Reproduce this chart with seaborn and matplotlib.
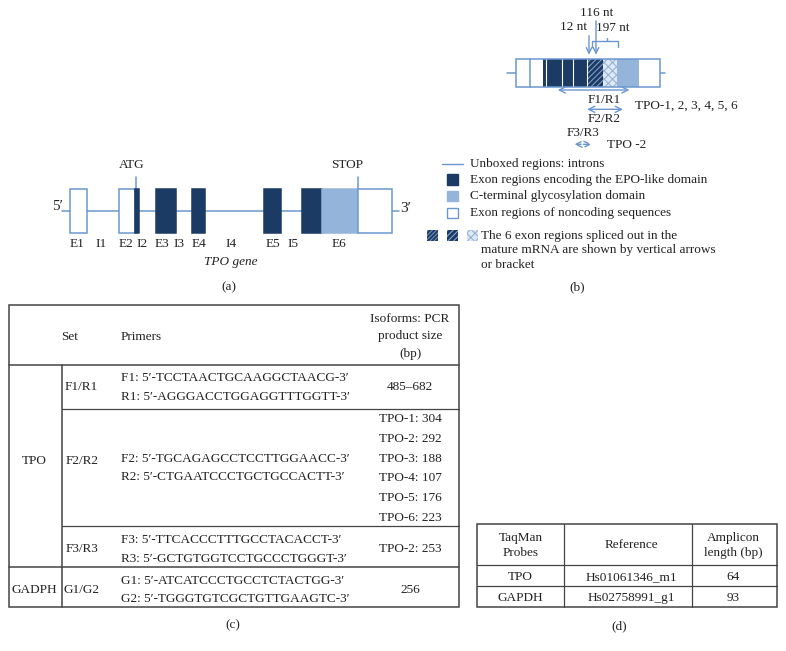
import matplotlib
matplotlib.use("Agg")
import matplotlib.pyplot as plt
from matplotlib.patches import Rectangle, FancyArrowPatch
import seaborn as sns

# colours
DARK = "#1b3a64"
LIGHT = "#95b4d9"
LINE = "#6b97cf"

# (a) TPO gene: exon segments (start, end, kind), x in figure pixels
gene_start, gene_end, gene_y = 62, 399, 211
gene_segments = [
    (70, 86.7, "white"),      # E1
    (119, 134.7, "white"),    # E2 5'UTR
    (134.7, 139.3, "dark"),   # E2 coding
    (155.7, 176, "dark"),     # E3
    (192, 204.7, "dark"),     # E4
    (264.3, 281, "dark"),     # E5
    (301.7, 322.3, "dark"),   # E6 EPO-like
    (322.3, 357.7, "light"),  # E6 C-terminal
    (357.7, 391.7, "white"),  # E6 3'UTR
]
gene_labels = ["E1", "I1", "E2", "I2", "E3", "I3", "E4", "I4", "E5", "I5", "E6"]
gene_label_x = [77, 101, 126, 142, 162, 179, 199, 231, 273, 293, 339]
codon_marks = ["ATG", "STOP"]
codon_x = [136, 357.7]

# (b) mature mRNA segments
mrna_edges = [516, 530, 542.7, 546, 561.7, 572.7, 586.7, 603.3, 617.3, 638.7, 660]
mrna_kinds = ["white", "white", "dark", "dark", "dark", "dark", "hatch", "dots", "light", "white"]
splice_labels = ["12 nt", "116 nt", "197 nt"]

primer_sets = ["F1/R1", "F2/R2", "F3/R3"]
primer_arrows = [(555, 632.3, 90), (584.3, 625.7, 109.3), (571.7, 594.3, 144.3)]

legend_texts = [
    "Unboxed regions: introns",
    "Exon regions encoding the EPO-like domain",
    "C-terminal glycosylation domain",
    "Exon regions of noncoding sequences",
]

# (c) primer table
set_names = ["F1/R1", "F2/R2", "F3/R3", "G1/G2"]
primers = [
    ["F1: 5\u2032-TCCTAACTGCAAGGCTAACG-3\u2032", "R1: 5\u2032-AGGGACCTGGAGGTTTGGTT-3\u2032"],
    ["F2: 5\u2032-TGCAGAGCCTCCTTGGAACC-3\u2032", "R2: 5\u2032-CTGAATCCCTGCTGCCACTT-3\u2032"],
    ["F3: 5\u2032-TTCACCCTTTGCCTACACCT-3\u2032", "R3: 5\u2032-GCTGTGGTCCTGCCCTGGGT-3\u2032"],
    ["G1: 5\u2032-ATCATCCCTGCCTCTACTGG-3\u2032", "G2: 5\u2032-TGGGTGTCGCTGTTGAAGTC-3\u2032"],
]
product_sizes = [
    ["485\u2013682"],
    ["TPO-1: 304", "TPO-2: 292", "TPO-3: 188", "TPO-4: 107", "TPO-5: 176", "TPO-6: 223"],
    ["TPO-2: 253"],
    ["256"],
]

# (d) TaqMan table
taqman_header = ["TaqMan\nProbes", "Reference", "Amplicon\nlength (bp)"]
taqman_genes = ["TPO", "GAPDH"]
taqman_refs = ["Hs01061346_m1", "Hs02758991_g1"]
taqman_lengths = [64, 93]

sns.set_theme(style="white")
plt.rcParams["font.family"] = ["Liberation Serif", "DejaVu Serif"]
plt.rcParams["hatch.linewidth"] = 0.8

fig = plt.figure(figsize=(7.86, 6.51), dpi=100)
ax = fig.add_axes([0, 0, 1, 1])
ax.set_xlim(0, 786)
ax.set_ylim(651, 0)
ax.axis("off")

FS = 9.5
TC = "#222222"
plt.rcParams["text.color"] = TC
fill = {"white": "white", "dark": DARK, "light": LIGHT}

# ---------- (a) ----------
ax.plot([gene_start, gene_end], [gene_y, gene_y], color=LINE, lw=1.1, zorder=1)
box_top, box_bot = 189, 233
for x0, x1, kind in gene_segments:
    ax.add_patch(Rectangle((x0, box_top), x1 - x0, box_bot - box_top,
                           facecolor=fill[kind], edgecolor=LINE if kind == "white" else fill[kind],
                           lw=1.1, zorder=2))
for name, cx in zip(codon_marks, codon_x):
    ax.plot([cx, cx], [177, box_top], color=LINE, lw=1.1, zorder=1)
    ax.text(cx - 4 if name == "ATG" else cx - 11, 165, name, fontsize=FS, ha="center", va="center")
ax.text(58, 207, "5\u2032", fontsize=FS + 1.5, ha="center", va="center")
ax.text(406, 209, "3\u2032", fontsize=FS + 1.5, ha="center", va="center")
for lab, lx in zip(gene_labels, gene_label_x):
    ax.text(lx, 244, lab, fontsize=FS, ha="center", va="center")
ax.text(231, 262, "TPO gene", fontsize=FS, ha="center", va="center", style="italic")
ax.text(229, 287, "(a)", fontsize=FS, ha="center", va="center")

# ---------- (b) ----------
m_top, m_bot = 59.3, 86.7
ax.plot([506.7, 665], [73, 73], color=LINE, lw=1.1, zorder=1)
for x0, x1, kind in zip(mrna_edges[:-1], mrna_edges[1:], mrna_kinds):
    if kind == "hatch":
        p = Rectangle((x0, m_top), x1 - x0, m_bot - m_top, facecolor=DARK,
                      edgecolor="#7f9cc4", hatch="//////", lw=0, zorder=2)
    elif kind == "dots":
        p = Rectangle((x0, m_top), x1 - x0, m_bot - m_top, facecolor="#dfe8f4",
                      edgecolor=LIGHT, hatch="xxxx", lw=0, zorder=2)
    else:
        p = Rectangle((x0, m_top), x1 - x0, m_bot - m_top, facecolor=fill[kind], lw=0, zorder=2)
    ax.add_patch(p)
ax.add_patch(Rectangle((mrna_edges[0], m_top), mrna_edges[-1] - mrna_edges[0], m_bot - m_top,
                       facecolor="none", edgecolor=LINE, lw=1.1, zorder=4))
ax.plot([mrna_edges[1]] * 2, [m_top, m_bot], color=LINE, lw=1.1, zorder=4)
for xe in mrna_edges[3:7]:
    ax.plot([xe, xe], [m_top, m_bot], color="white", lw=0.8, zorder=3)

# splice arrows and bracket
for x, ytop in [(589, 33), (596, 18)]:
    ax.add_patch(FancyArrowPatch((x, ytop), (x, 57.5), arrowstyle="->", mutation_scale=10,
                                 color=LINE, lw=1.0, zorder=5))
ax.plot([591.7, 591.7, 617.7, 617.7], [46.7, 41, 41, 46.7], color=LINE, lw=1.0)
ax.plot([606.7, 606.7], [41, 37.5], color=LINE, lw=1.0)
ax.text(573, 27, splice_labels[0], fontsize=FS, ha="center", va="center")
ax.text(597, 12.5, splice_labels[1], fontsize=FS, ha="center", va="center")
ax.text(613, 28, splice_labels[2], fontsize=FS, ha="center", va="center")

# primer amplicons
label_y = [100, 119, 133]
for (x0, x1, y), name, ly in zip(primer_arrows, primer_sets, label_y):
    ls = "--" if name == "F3/R3" else "-"
    ax.add_patch(FancyArrowPatch((x0, y), (x1, y), arrowstyle="<->", mutation_scale=11,
                                 color=LINE, lw=1.0, linestyle=ls))
    ax.text(604 if name != "F3/R3" else 583, ly, name, fontsize=FS, ha="center", va="center")
ax.text(635, 105.5, "TPO-1, 2, 3, 4, 5, 6", fontsize=FS, ha="left", va="center")
ax.text(607, 144.5, "TPO -2", fontsize=FS, ha="left", va="center")

# legend
ax.plot([441.7, 462.7], [163.5, 163.5], color=LINE, lw=1.0)
ax.text(470, 163.5, legend_texts[0], fontsize=FS, ha="left", va="center")
for y, col, text in zip([179.5, 196, 213], [DARK, LIGHT, "white"], legend_texts[1:]):
    ax.add_patch(Rectangle((447, y - 5.3), 10.6, 10.6, facecolor=col,
                           edgecolor=LINE if col == "white" else col, lw=1.0))
    ax.text(470, y, text, fontsize=FS, ha="left", va="center")
for x, fc, ec, h in [(427, DARK, "#6f8fbb", "////////"), (447, DARK, "#8aa6cc", "//////"),
                     (467, "#dfe8f4", LIGHT, "xxxx")]:
    ax.add_patch(Rectangle((x, 230), 10.6, 10.6, facecolor=fc, edgecolor=ec, hatch=h, lw=0))
ax.text(481, 235.5, "The 6 exon regions spliced out in the", fontsize=FS, ha="left", va="center")
ax.text(481, 250, "mature mRNA are shown by vertical arrows", fontsize=FS, ha="left", va="center")
ax.text(481, 265, "or bracket", fontsize=FS, ha="left", va="center")
ax.text(577, 287, "(b)", fontsize=FS, ha="center", va="center")

# ---------- (c) ----------
TL = "#444444"
tw = 1.1
cL, cR, cSet = 9, 459, 62.3
ax.add_patch(Rectangle((cL, 305), cR - cL, 607 - 305, facecolor="none", edgecolor=TL, lw=tw))
ax.plot([cL, cR], [365, 365], color=TL, lw=tw)
ax.plot([cSet, cR], [409.3, 409.3], color=TL, lw=0.9)
ax.plot([cSet, cR], [525.5, 525.5], color=TL, lw=0.9)
ax.plot([cL, cR], [566.7, 566.7], color=TL, lw=tw)
ax.plot([cSet, cSet], [365, 607], color=TL, lw=tw)

ax.text(69.5, 337.5, "Set", fontsize=FS, ha="center", va="center")
ax.text(120.7, 337.5, "Primers", fontsize=FS, ha="left", va="center")
for i, line in enumerate(["Isoforms: PCR", "product size", "(bp)"]):
    ax.text(410, 318.5 + 17.8 * i, line, fontsize=FS, ha="center", va="center")

set_y = [387.5, 461, 549.3, 590]
primer_y = [(378.3, 396.7), (459.3, 477.5), (540, 559.3), (580.5, 599.3)]
for name, sy, (y1, y2), plist, sizes in zip(set_names, set_y, primer_y, primers, product_sizes):
    ax.text(81.7, sy, name, fontsize=FS, ha="center", va="center")
    ax.text(120.7, y1, plist[0], fontsize=FS, ha="left", va="center")
    ax.text(120.7, y2, plist[1], fontsize=FS, ha="left", va="center")
    if len(sizes) == 1:
        ax.text(410, sy, sizes[0], fontsize=FS, ha="center", va="center")
    else:
        for k, s in enumerate(sizes):
            ax.text(410, 419.3 + 19.7 * k, s, fontsize=FS, ha="center", va="center")
ax.text(34.7, 461, "TPO", fontsize=FS, ha="center", va="center")
ax.text(34.7, 590, "GADPH", fontsize=FS, ha="center", va="center")
ax.text(233, 625, "(c)", fontsize=FS, ha="center", va="center")

# ---------- (d) ----------
dL, dR = 477.3, 776.7
ax.add_patch(Rectangle((dL, 524.3), dR - dL, 606.7 - 524.3, facecolor="none", edgecolor=TL, lw=tw))
ax.plot([dL, dR], [565, 565], color=TL, lw=0.9)
ax.plot([dL, dR], [586, 586], color=TL, lw=0.9)
for xv in [564.3, 691.7]:
    ax.plot([xv, xv], [524.3, 606.7], color=TL, lw=0.9)
col_x = [520.7, 631.7, 733.3]
for cx, h in zip(col_x, taqman_header):
    ax.text(cx, 545.3, h, fontsize=FS, ha="center", va="center", linespacing=1.3)
for ry, g, r, ln in zip([577.3, 598.3], taqman_genes, taqman_refs, taqman_lengths):
    ax.text(col_x[0], ry, g, fontsize=FS, ha="center", va="center")
    ax.text(col_x[1], ry, r, fontsize=FS, ha="center", va="center")
    ax.text(col_x[2], ry, str(ln), fontsize=FS, ha="center", va="center")
ax.text(619.3, 626, "(d)", fontsize=FS, ha="center", va="center")

fig.savefig("out.png", dpi=100, facecolor="white")
